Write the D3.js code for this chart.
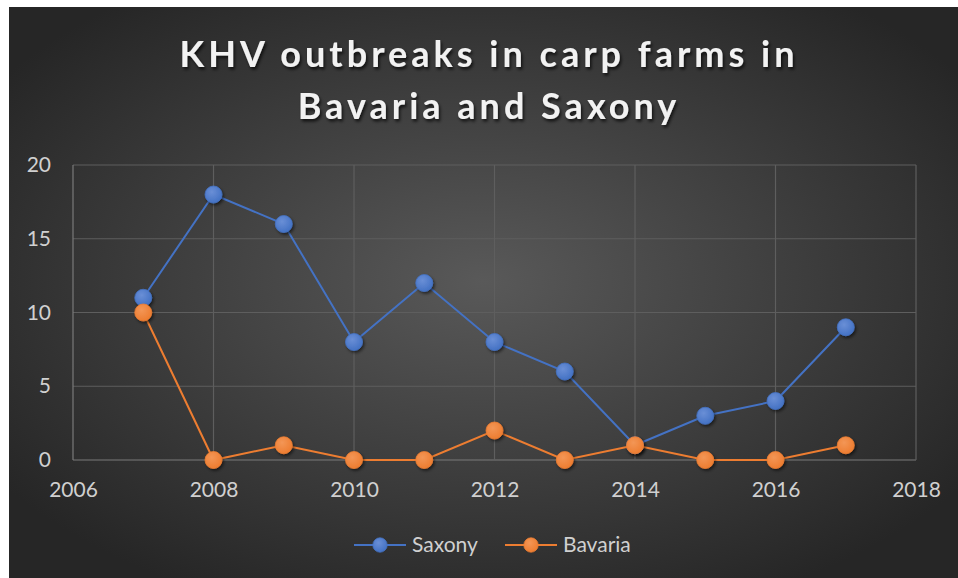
<!DOCTYPE html>
<html>
<head>
<meta charset="utf-8">
<script src="https://cdn.jsdelivr.net/npm/d3@7"></script>
<style>
  html, body { margin: 0; padding: 0; background: #ffffff; }
  svg { display: block; }
  text { font-family: Lato, "Open Sans", sans-serif; }
</style>
</head>
<body>
<svg id="chart" width="958" height="578"></svg>
<script>
// chart data
var years = [2007, 2008, 2009, 2010, 2011, 2012, 2013, 2014, 2015, 2016, 2017];
var saxony = [11, 18, 16, 8, 12, 8, 6, 1, 3, 4, 9];
var bavaria = [10, 0, 1, 0, 0, 2, 0, 1, 0, 0, 1];
var xTicks = [2006, 2008, 2010, 2012, 2014, 2016, 2018];
var yTicks = [0, 5, 10, 15, 20];
var titleLines = ["KHV outbreaks in carp farms in", "Bavaria and Saxony"];

var series = [
    { name: "Saxony", values: saxony, color: "#4472C4", light: "#6a8fd6" },
    { name: "Bavaria", values: bavaria, color: "#ED7D31", light: "#f39656" }
];

var svg = d3.select("#chart");
var defs = svg.append("defs");

/* background: radial gradient like the excel dark style */
var bg = defs.append("radialGradient").attr("id", "bg")
    .attr("cx", "50%").attr("cy", "48%").attr("r", "62%");
bg.append("stop").attr("offset", "0%").attr("stop-color", "#595959");
bg.append("stop").attr("offset", "100%").attr("stop-color", "#262626");

var shadow = defs.append("filter").attr("id", "shadow")
    .attr("x", "-50%").attr("y", "-50%").attr("width", "200%").attr("height", "200%");
shadow.append("feDropShadow").attr("dx", 1.5).attr("dy", 2).attr("stdDeviation", 1.5)
    .attr("flood-color", "#000").attr("flood-opacity", 0.55);

var tshadow = defs.append("filter").attr("id", "tshadow")
    .attr("x", "-10%").attr("y", "-30%").attr("width", "120%").attr("height", "160%");
tshadow.append("feDropShadow").attr("dx", 1.5).attr("dy", 2.5).attr("stdDeviation", 1.5)
    .attr("flood-color", "#000").attr("flood-opacity", 0.7);

series.forEach(function (s, i) {
    var g = defs.append("radialGradient").attr("id", "mk" + i)
        .attr("cx", "40%").attr("cy", "35%").attr("r", "65%");
    g.append("stop").attr("offset", "0%").attr("stop-color", s.light);
    g.append("stop").attr("offset", "100%").attr("stop-color", s.color);
});

svg.append("rect").attr("x", 9).attr("y", 7).attr("width", 949).attr("height", 571)
    .attr("fill", "url(#bg)");

var x = d3.scaleLinear().domain([2006, 2018]).range([73, 916]);
var y = d3.scaleLinear().domain([0, 20]).range([460, 165]);

/* gridlines */
var grid = svg.append("g");
grid.selectAll("line.h").data(yTicks).enter().append("line")
    .attr("x1", x(2006)).attr("x2", x(2018))
    .attr("y1", function (d) { return y(d); }).attr("y2", function (d) { return y(d); })
    .attr("stroke", function (d) { return d == 0 ? "#7a7a7a" : "#5e5e5e"; })
    .attr("stroke-width", 1.2);
grid.selectAll("line.v").data(xTicks).enter().append("line")
    .attr("y1", y(0)).attr("y2", y(20))
    .attr("x1", function (d) { return x(d); }).attr("x2", function (d) { return x(d); })
    .attr("stroke", function (d) { return d == 2006 ? "#7a7a7a" : "#5e5e5e"; })
    .attr("stroke-width", 1.2);

/* axes, drawn with d3 axes but without domain/tick lines */
var xAxis = svg.append("g").attr("transform", "translate(0," + y(0) + ")")
    .call(d3.axisBottom(x).tickValues(xTicks).tickFormat(d3.format("d")).tickSize(0).tickPadding(22));
var yAxis = svg.append("g").attr("transform", "translate(" + x(2006) + ",0)")
    .call(d3.axisLeft(y).tickValues(yTicks).tickSize(0).tickPadding(22));
[xAxis, yAxis].forEach(function (a) {
    a.select(".domain").remove();
    a.selectAll("text").attr("fill", "#d0d0d0").style("font-size", "21px")
        .style("font-family", "Lato, 'Open Sans', sans-serif");
});

/* lines and markers */
var line = d3.line()
    .x(function (d) { return x(d.year); })
    .y(function (d) { return y(d.v); });

series.forEach(function (s, i) {
    var pts = years.map(function (yr, j) { return { year: yr, v: s.values[j] }; });
    svg.append("path").datum(pts).attr("d", line)
        .attr("fill", "none").attr("stroke", s.color).attr("stroke-width", 2);
    svg.append("g").selectAll("circle").data(pts).enter().append("circle")
        .attr("cx", function (d) { return x(d.year); })
        .attr("cy", function (d) { return y(d.v); })
        .attr("r", 8.5)
        .attr("fill", "url(#mk" + i + ")")
        .attr("stroke", s.color).attr("stroke-width", 0.8)
        .attr("filter", "url(#shadow)");
});

/* title */
svg.append("g").attr("filter", "url(#tshadow)").selectAll("text").data(titleLines).enter().append("text")
    .attr("x", 489).attr("y", function (d, i) { return 67 + i * 52; })
    .attr("text-anchor", "middle")
    .attr("fill", "#f2f2f2")
    .style("font-size", "36px").style("font-weight", "bold").style("letter-spacing", "4px")
    .text(function (d) { return d; });

/* legend */
var legendX = [354, 505];
series.forEach(function (s, i) {
    var lg = svg.append("g").attr("transform", "translate(" + legendX[i] + ",545)");
    lg.append("line").attr("x1", 0).attr("x2", 52).attr("stroke", s.color).attr("stroke-width", 2);
    lg.append("circle").attr("cx", 26).attr("r", 7.2).attr("fill", "url(#mk" + i + ")")
        .attr("stroke", s.color).attr("stroke-width", 0.8);
    lg.append("text").attr("x", 58).attr("y", 7).attr("fill", "#d0d0d0")
        .style("font-size", "21px").text(s.name);
});
</script>
</body>
</html>
